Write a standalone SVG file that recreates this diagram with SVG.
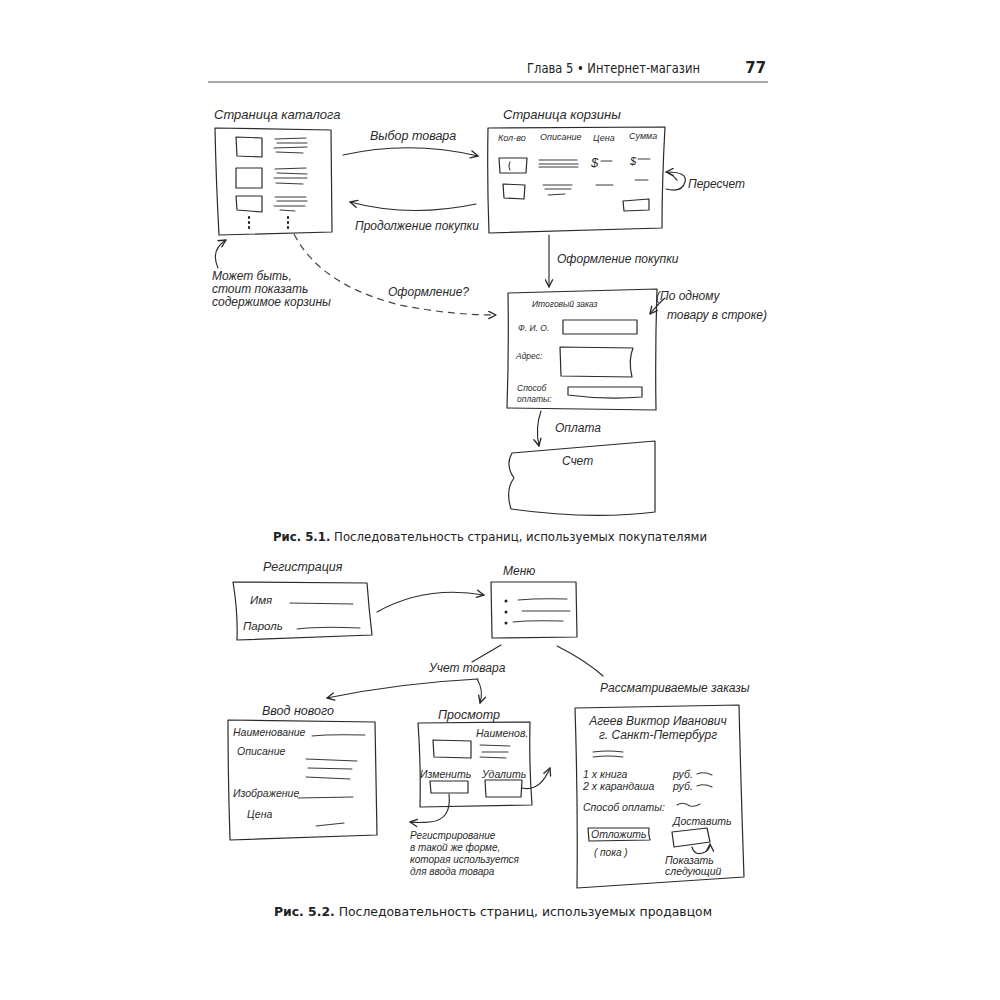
<svg xmlns="http://www.w3.org/2000/svg" width="1000" height="1000" viewBox="0 0 1000 1000">
<style>
.bg{fill:#fff}
.sk{fill:none;stroke:#2a2a2a;stroke-width:1.2;stroke-linejoin:round;stroke-linecap:round}
.ln{fill:none;stroke:#3a3a3a;stroke-width:1.05;stroke-linecap:round}
.cn{fill:none;stroke:#2a2a2a;stroke-width:1.15;stroke-linecap:round}
.ds{fill:none;stroke:#444;stroke-width:1.2;stroke-dasharray:7 5}
.t{font-family:"Liberation Sans",Arial,sans-serif;font-style:italic;fill:#2a2a2a}
.h{font-family:"DejaVu Sans Condensed","DejaVu Sans","Liberation Sans",sans-serif;fill:#222}
</style>
<defs>
<marker id="ah" viewBox="0 0 10 10" refX="9" refY="5" markerWidth="9" markerHeight="9" markerUnits="userSpaceOnUse" orient="auto">
<path d="M1,1 L9,5 L1,9" fill="none" stroke="#2a2a2a" stroke-width="1.5" stroke-linecap="round" stroke-linejoin="round"/>
</marker>
</defs>
<rect class="bg" x="0" y="0" width="1000" height="1000"/>

<g id="header">
<text class="h" x="527" y="73" font-size="14.5" textLength="173" lengthAdjust="spacingAndGlyphs">Глава 5 • Интернет-магазин</text>
<text class="h" x="766" y="73" font-size="16.5" font-weight="bold" text-anchor="end">77</text>
<line x1="208" y1="82" x2="768" y2="82" stroke="#888" stroke-width="1.3"/>
</g>

<!-- Figure 5.1 -->
<g id="catalog">
<text class="t" x="214" y="119" font-size="13">Страница каталога</text>
<path class="sk" d="M215,128 L331,130 L332,232 L219,235 Q216,180 215,128 Z"/>
<path class="sk" d="M236,137 L262,138 L262,157 L237,156 Z"/>
<path class="sk" d="M236,168 L262,168 L262,188 L236,188 Z"/>
<path class="sk" d="M236,196 L262,196 L262,212 L237,210 Z"/>
<path class="ln" d="M275,139 L306,138 M277,143 L307,143 M274,148 L307,147 M276,152 L303,153"/>
<path class="ln" d="M275,169 L306,168 M277,173 L307,174 M274,178 L307,178 M276,183 L303,184"/>
<path class="ln" d="M275,197 L306,197 M277,201 L307,201 M274,206 L305,206 M280,210 L295,211"/>
<path d="M249,217 v1 M249,222 v1 M249,227 v1 M288,217 v1 M288,222 v1 M288,227 v1" stroke="#222" stroke-width="2.2" stroke-linecap="round"/>
</g>

<g id="basket">
<text class="t" x="503" y="119" font-size="13">Страница корзины</text>
<path class="sk" d="M488,128 L665,127 Q662,180 662,228 L489,233 Q487,180 488,128 Z"/>
<text class="t" x="498" y="141" font-size="9">Кол-во</text>
<text class="t" x="540" y="140" font-size="9">Описание</text>
<text class="t" x="593" y="141" font-size="9">Цена</text>
<text class="t" x="629" y="139" font-size="9">Сумма</text>
<path class="sk" d="M499,158 L527,158 L526,173 L500,173 Z"/>
<path class="ln" d="M510,162 Q508,166 510,170"/>
<path class="ln" d="M539,160 L577,160 M539,164 L578,164 M539,167 L578,167"/>
<text class="t" x="591" y="167" font-size="13">$</text><path class="ln" d="M601,161 L612,161"/>
<text class="t" x="630" y="165" font-size="11">$</text><path class="ln" d="M638,159 L650,159"/>
<path class="sk" d="M503,184 L525,185 L524,199 L504,198 Z"/>
<path class="ln" d="M543,185 L572,185 M545,189 L571,189 M548,195 L565,194"/>
<path class="ln" d="M596,185 L613,185 M635,180 L648,180"/>
<path class="sk" d="M623,201 L649,199 L649,210 L624,211 Z"/>
</g>

<g id="order">
<path class="sk" d="M508,293 L657,289 Q655,350 656,410 L507,408 Q509,350 508,293 Z"/>
<text class="t" x="532" y="307" font-size="8.5">Итоговый заказ</text>
<text class="t" x="518" y="331" font-size="8.5">Ф. И. О.</text>
<path class="sk" d="M563,320 L637,320 L637,334 L563,334 Z"/>
<text class="t" x="516" y="359" font-size="8.5">Адрес:</text>
<path class="sk" d="M560,347 L633,348 Q628,360 632,377 L561,376 Z"/>
<text class="t" x="517" y="391" font-size="8.5">Способ</text>
<text class="t" x="517" y="402" font-size="8.5">оплаты:</text>
<path class="sk" d="M568,387 L642,387 L642,397 Q605,400 568,395 Z"/>
</g>

<g id="invoice">
<path class="sk" d="M512,453 L655,441 L655,512 Q590,520 511,509 Q505,490 514,478 Q505,465 512,453 Z"/>
<text class="t" x="562" y="465" font-size="12">Счет</text>
</g>

<g id="notes51">
<text class="t" x="688" y="188" font-size="12">Пересчет</text>
<text class="t" x="656" y="300" font-size="12">(По одному</text>
<text class="t" x="667" y="319" font-size="12">товару в строке)</text>
<text class="t" x="212" y="280" font-size="12">Может быть,</text>
<text class="t" x="212" y="293" font-size="12">стоит показать</text>
<text class="t" x="212" y="306" font-size="12">содержимое корзины</text>
</g>

<g id="connectors51">
<path class="cn" d="M343,155 Q410,140 478,156" marker-end="url(#ah)"/>
<text class="t" x="370" y="140" font-size="12.5">Выбор товара</text>
<path class="cn" d="M476,204 Q410,218 350,202" marker-end="url(#ah)"/>
<text class="t" x="355" y="230" font-size="12">Продолжение покупки</text>
<path class="cn" d="M667,172 Q688,172 685,182 Q682,193 666,189"/>
<path class="cn" d="M677,180 Q670,172 666,172" marker-end="url(#ah)"/>
<path class="cn" d="M549,235 L549,287" marker-end="url(#ah)"/>
<text class="t" x="557" y="263" font-size="12">Оформление покупки</text>
<path class="ds" d="M294,234 Q320,285 400,305 Q450,315 496,315" marker-end="url(#ah)"/>
<text class="t" x="388" y="296" font-size="12">Оформление?</text>
<path class="cn" d="M665,298 Q658,304 650,314" marker-end="url(#ah)"/>
<path class="cn" d="M218,268 Q210,250 226,240" marker-end="url(#ah)"/>
<path class="cn" d="M541,411 Q535,428 539,446" marker-end="url(#ah)"/>
<text class="t" x="555" y="432" font-size="12">Оплата</text>
</g>

<text class="h" x="273" y="541" font-size="13" textLength="434" lengthAdjust="spacingAndGlyphs"><tspan font-weight="bold">Рис. 5.1.</tspan> Последовательность страниц, используемых покупателями</text>

<!-- Figure 5.2 -->
<g id="registration">
<text class="t" x="263" y="571" font-size="12.5">Регистрация</text>
<path class="sk" d="M233,582 L367,583 Q369,610 372,635 L237,640 Q238,612 233,582 Z"/>
<text class="t" x="250" y="604" font-size="11.5">Имя</text>
<path class="ln" d="M290,603 L353,604"/>
<text class="t" x="243" y="630" font-size="11.5">Пароль</text>
<path class="ln" d="M297,629 Q320,626 360,628"/>
</g>

<g id="menu">
<text class="t" x="503" y="575" font-size="12">Меню</text>
<path class="sk" d="M491,582 L576,582 L577,637 L492,638 Z"/>
<circle cx="506" cy="601" r="1.5" fill="#222"/>
<circle cx="506" cy="612" r="1.5" fill="#222"/>
<circle cx="506" cy="623" r="1.5" fill="#222"/>
<path class="ln" d="M518,600 Q540,598 567,599 M522,611 L570,611 M513,622 Q530,620 563,621"/>
</g>

<g id="newitem">
<text class="t" x="262" y="715" font-size="12.5">Ввод нового</text>
<path class="sk" d="M228,720 L375,722 L377,835 L230,840 Q228,780 228,720 Z"/>
<text class="t" x="233" y="736" font-size="10.5">Наименование</text>
<path class="ln" d="M312,736 Q330,734 365,735"/>
<text class="t" x="237" y="755" font-size="10.5">Описание</text>
<path class="ln" d="M306,759 L357,761 M308,768 L352,769 M306,777 L350,779"/>
<text class="t" x="233" y="797" font-size="10.5">Изображение</text>
<path class="ln" d="M298,798 L353,797"/>
<text class="t" x="247" y="818" font-size="10.5">Цена</text>
<path class="ln" d="M316,826 L344,823"/>
</g>

<g id="view">
<text class="t" x="438" y="719" font-size="12.5">Просмотр</text>
<path class="sk" d="M418,723 L530,722 Q529,765 532,805 L420,807 Q421,765 418,723 Z"/>
<text class="t" x="476" y="737" font-size="10.5">Наименов.</text>
<path class="sk" d="M433,740 L471,741 L471,758 L434,757 Z"/>
<path class="ln" d="M480,745 L510,746 M482,752 L508,752 M480,757 L506,758"/>
<text class="t" x="420" y="778" font-size="10.5">Изменить</text>
<text class="t" x="482" y="778" font-size="10.5">Удалить</text>
<path class="sk" d="M430,781 L468,781 L468,793 L431,793 Z"/>
<path class="sk" d="M485,780 L522,780 L521,797 L486,797 Z"/>
</g>

<g id="orders">
<text class="t" x="600" y="692" font-size="12">Рассматриваемые заказы</text>
<path class="sk" d="M575,708 L739,705 Q741,790 744,877 L577,888 Q578,800 575,708 Z"/>
<text class="t" x="658" y="725" font-size="12" text-anchor="middle">Агеев Виктор Иванович</text>
<text class="t" x="658" y="739" font-size="12" text-anchor="middle">г. Санкт-Петербург</text>
<path class="ln" d="M593,752 Q608,750 623,752 M593,757 Q608,755 623,757"/>
<text class="t" x="583" y="778" font-size="10.5">1 х книга</text>
<text class="t" x="673" y="778" font-size="10.5">руб.</text>
<path class="ln" d="M697,774 Q704,771 712,775"/>
<text class="t" x="583" y="790" font-size="10.5">2 х карандаша</text>
<text class="t" x="673" y="790" font-size="10.5">руб.</text>
<path class="ln" d="M697,786 Q704,783 712,787"/>
<text class="t" x="583" y="811" font-size="10.5">Способ оплаты:</text>
<path class="ln" d="M677,805 Q683,801 690,806 Q695,807 700,804"/>
<text class="t" x="673" y="825" font-size="10.5">Доставить</text>
<path class="sk" d="M588,828 L649,828 Q648,834 650,840 L589,841 Z"/>
<text class="t" x="591" y="838" font-size="10.5">Отложить</text>
<text class="t" x="594" y="856" font-size="10">(   пока   )</text>
<path class="sk" d="M672,832 L707,828 L710,842 L674,847 Z"/>
<text class="t" x="665" y="864" font-size="10.5">Показать</text>
<text class="t" x="665" y="875" font-size="10.5">следующий</text>
</g>

<g id="notes52">
<text class="t" x="410" y="839" font-size="10">Регистрирование</text>
<text class="t" x="410" y="851" font-size="10">в такой же форме,</text>
<text class="t" x="410" y="863" font-size="10">которая используется</text>
<text class="t" x="410" y="875" font-size="10">для ввода товара</text>
</g>

<g id="connectors52">
<path class="cn" d="M377,612 Q425,585 484,595" marker-end="url(#ah)"/>
<path class="cn" d="M501,645 L472,662"/>
<text class="t" x="429" y="672" font-size="12">Учет товара</text>
<path class="cn" d="M557,646 Q585,660 603,676"/>
<path class="cn" d="M478,679 Q400,683 327,698" marker-end="url(#ah)"/>
<path class="cn" d="M477,679 Q484,690 480,703" marker-end="url(#ah)"/>
<path class="cn" d="M522,788 Q540,792 550,768" marker-end="url(#ah)"/>
<path class="cn" d="M449,794 Q452,820 430,822 Q418,823 410,822" marker-end="url(#ah)"/>
<path class="cn" d="M692,847 Q695,857 705,852 Q710,849 710,844" marker-end="url(#ah)"/>
</g>

<text class="h" x="274" y="916" font-size="13" textLength="438" lengthAdjust="spacingAndGlyphs"><tspan font-weight="bold">Рис. 5.2.</tspan> Последовательность страниц, используемых продавцом</text>
</svg>
